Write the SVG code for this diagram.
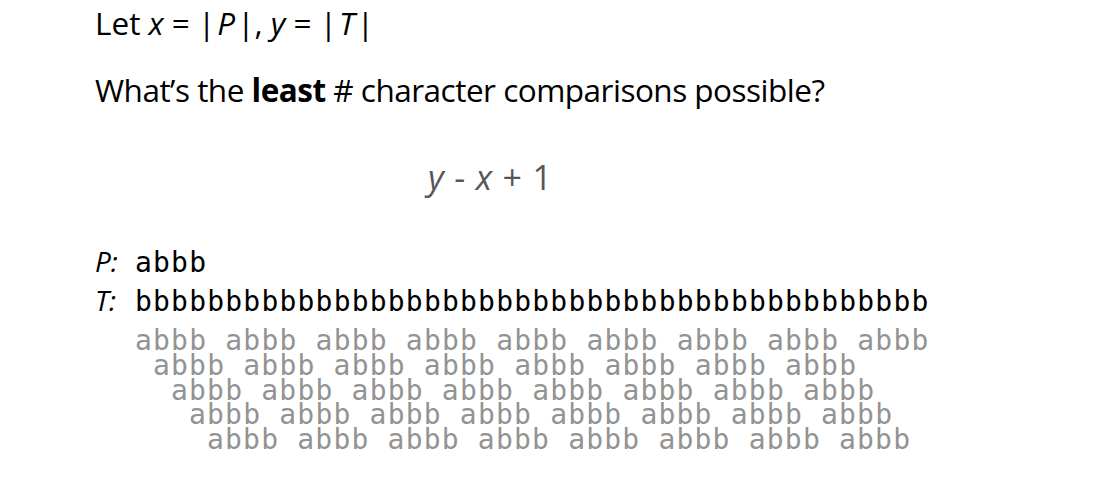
<svg xmlns="http://www.w3.org/2000/svg" width="1104" height="492" viewBox="0 0 1104 492">
<style>
.h{font-family:"Open Sans","Noto Sans",sans-serif;font-size:31.5px;fill:#000}
.i{font-style:italic}
.b{font-weight:bold}
.m{font-family:"DejaVu Sans Mono","Liberation Mono",monospace;font-size:28px;letter-spacing:1.2px}
.g{fill:#939393}
.k{fill:#000}
.a{fill:#575757;font-size:34px}
.l{font-size:28px}
</style>
<rect width="1104" height="492" fill="#fff"/>
<g id="title">
<text class="h" x="95" y="35">Let <tspan class="i">x</tspan> = |<tspan dx="2" class="i">P</tspan><tspan dx="2">|,</tspan> <tspan class="i">y</tspan> = |<tspan dx="2" class="i">T</tspan><tspan dx="2">|</tspan></text>
</g>
<g id="question">
<text class="h" x="95" y="102" textLength="730" lengthAdjust="spacing">What’s the <tspan class="b">least</tspan> # character comparisons possible?</text>
</g>
<g id="answer">
<text class="h a" x="428" y="190" textLength="124" lengthAdjust="spacing"><tspan class="i">y</tspan> - <tspan class="i">x</tspan> + 1</text>
</g>
<g id="pattern">
<text class="h i l" x="95" y="272">P:</text>
<text class="m k" x="135" y="272">abbb</text>
</g>
<g id="text">
<text class="h i l" x="95" y="311">T:</text>
<text class="m k" x="135" y="311">bbbbbbbbbbbbbbbbbbbbbbbbbbbbbbbbbbbbbbbbbbbb</text>
</g>
<g id="alignments" class="m g">
<text x="135" y="350" xml:space="preserve">abbb abbb abbb abbb abbb abbb abbb abbb abbb</text>
<text x="153" y="375" xml:space="preserve">abbb abbb abbb abbb abbb abbb abbb abbb</text>
<text x="171" y="400" xml:space="preserve">abbb abbb abbb abbb abbb abbb abbb abbb</text>
<text x="189" y="424" xml:space="preserve">abbb abbb abbb abbb abbb abbb abbb abbb</text>
<text x="207" y="449" xml:space="preserve">abbb abbb abbb abbb abbb abbb abbb abbb</text>
</g>
</svg>
